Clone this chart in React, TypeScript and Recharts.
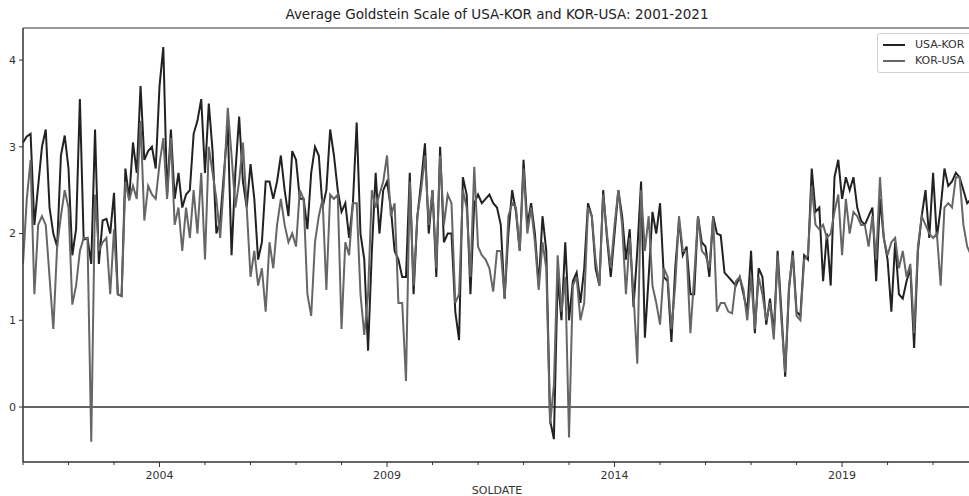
import { LineChart, Line, XAxis, YAxis, ReferenceLine, ReferenceArea } from "recharts";

// monthly averages, Jan 2001 .. Nov 2021
const usaKor = [
  3.05, 3.12, 3.15, 2.1, 2.55, 3.0, 3.2, 2.3, 2.0, 1.85, 2.9, 3.13,
  2.75, 1.75, 2.05, 3.55, 1.93, 1.95, 1.65, 3.2, 1.65, 2.15, 2.17, 2.0,
  2.47, 1.3, 1.28, 2.75, 2.4, 3.05, 2.7, 3.7, 2.85, 2.95, 3.0, 2.75,
  3.7, 4.15, 2.45, 3.2, 2.4, 2.7, 2.3, 2.45, 2.5, 3.15, 3.3, 3.55,
  2.7, 3.5, 2.95, 2.0, 2.15, 2.7, 3.25, 1.75, 2.7, 3.35, 2.6, 2.3,
  2.8, 2.4, 1.7, 1.9, 2.6, 2.6, 2.4, 2.6, 2.9, 2.5, 2.2, 2.95,
  2.85, 2.4, 2.4, 2.05, 2.7, 3.0, 2.9, 2.3, 2.5, 3.2, 2.9, 2.5,
  2.25, 2.35, 1.95, 2.35, 3.28, 2.0, 1.7, 0.65, 1.8, 2.7, 2.0, 2.5,
  2.6, 2.3, 1.8, 1.7, 1.5, 1.5, 2.7, 1.3, 2.2, 2.6, 3.04, 2.0,
  2.5, 1.5, 3.0, 1.9, 2.0, 2.0, 1.1, 0.77, 2.65, 2.45, 1.3, 2.35,
  2.45, 2.35, 2.4, 2.45, 2.35, 2.3, 2.1, 1.25, 2.0, 2.5, 2.25, 1.8,
  2.85, 2.1, 2.35, 2.0, 1.4, 2.2, 1.8, -0.15, -0.37, 1.5, 1.0, 1.9,
  1.0, 1.45, 1.55, 1.2, 1.6, 2.35, 2.2, 1.6, 1.4, 2.5, 1.95, 1.5,
  2.0, 2.5, 2.2, 1.7, 2.05, 1.15, 1.8, 2.6, 0.8, 1.5, 2.25, 2.0,
  2.35, 1.5, 1.45, 0.75, 1.6, 2.15, 1.75, 1.85, 1.3, 1.3, 2.2, 1.9,
  1.85, 1.5, 2.2, 2.0, 1.98, 1.55, 1.5, 1.45, 1.4, 1.5, 1.3, 1.1,
  1.8, 0.85, 1.6, 1.5, 0.95, 1.25, 0.85, 1.8, 1.1, 0.35, 1.35, 1.8,
  1.1, 1.05, 1.75, 1.7, 2.75, 2.25, 2.3, 1.45, 2.0, 1.4, 2.65, 2.85,
  2.4, 2.65, 2.5, 2.65, 2.3, 2.15, 2.1, 2.2, 2.3, 1.45, 2.4, 1.95,
  1.7, 1.1, 1.9, 1.3, 1.25, 1.45, 1.6, 0.68, 1.8, 2.2, 2.5, 1.95,
  2.7, 1.95, 2.3, 2.75, 2.55, 2.6, 2.7, 2.65, 2.5, 2.35, 2.4,
];

const korUsa = [
  1.65, 2.4, 2.85, 1.3, 2.1, 2.2, 2.1, 1.5, 0.9, 1.85, 2.2, 2.5,
  2.3, 1.18, 1.4, 1.8, 1.95, 1.95, -0.4, 2.45, 1.8, 1.9, 1.95, 1.3,
  2.05, 1.3, 1.28, 2.6, 2.38, 2.55, 2.4, 3.3, 2.15, 2.55, 2.45, 2.4,
  2.8, 3.1, 2.4, 3.1, 2.1, 2.3, 1.8, 2.3, 1.95, 2.5, 2.0, 2.7,
  1.7, 3.0, 2.7, 2.4, 1.95, 2.6, 3.45, 2.9, 2.3, 2.6, 3.05, 2.3,
  1.5, 1.8, 1.4, 1.6, 1.1, 1.9, 1.6, 2.1, 2.4, 2.1, 1.9, 2.0,
  1.85, 2.5, 2.4, 1.3, 1.05, 1.9, 2.2, 2.4, 1.35, 2.45, 2.4, 2.45,
  0.9, 1.9, 1.75, 2.35, 2.35, 1.3, 0.83, 1.3, 2.5, 2.3, 2.45, 2.6,
  2.9, 2.2, 2.35, 1.2, 1.2, 0.3, 2.6, 1.4, 2.2, 2.5, 2.9, 2.1,
  2.5, 1.6, 2.9, 2.1, 2.45, 2.35, 1.2, 1.3, 2.5, 2.3, 1.5, 2.77,
  1.85, 1.75, 1.7, 1.6, 1.33, 1.8, 1.8, 1.25, 2.2, 2.35, 2.3, 1.8,
  2.75, 2.0, 2.3, 1.9, 1.35, 1.9, 1.6, -0.2, 0.25, 1.75, 1.1, 1.5,
  -0.35, 1.4, 1.5, 1.0, 1.2, 2.3, 2.2, 1.7, 1.4, 2.45, 2.0, 1.6,
  2.1, 2.5, 2.1, 1.3, 1.95, 1.3, 0.5, 2.5, 1.8, 2.2, 1.4, 1.2,
  0.95, 1.6, 1.5, 0.9, 1.4, 2.2, 1.8, 1.8, 0.85, 1.5, 2.2, 1.8,
  1.75, 1.6, 2.2, 1.1, 1.2, 1.2, 1.1, 1.08, 1.45, 1.5, 1.35, 1.0,
  1.5, 0.9, 1.5, 1.3, 1.0, 1.2, 0.78, 1.75, 1.0, 0.4, 1.4, 1.75,
  1.05, 1.0, 1.7, 1.75, 2.55, 2.1, 2.05, 2.1, 1.95, 2.0, 2.25, 2.45,
  1.75, 2.4, 2.0, 2.25, 2.2, 2.1, 2.1, 1.85, 2.2, 1.7, 2.65, 1.95,
  1.75, 1.9, 1.95, 1.6, 1.8, 1.5, 1.65, 0.85, 1.85, 2.2, 2.1, 2.0,
  1.95, 2.0, 1.4, 2.3, 2.35, 2.3, 2.65, 2.65, 2.1, 1.85, 1.75,
];

const startYear = 2001;
const years = [2001, 2002, 2003, 2004, 2005, 2006, 2007, 2008, 2009, 2010, 2011, 2012, 2013, 2014, 2015, 2016, 2017, 2018, 2019, 2020, 2021];
const labelYears = [2004, 2009, 2014, 2019];
const yTicks = [0, 1, 2, 3, 4];

const data = usaKor.map((v, i) => ({ m: i, usaKor: v, korUsa: korUsa[i] }));
const yearTicks = years.map((y) => (y - startYear) * 12);

const FONT = "DejaVu Sans, sans-serif";
const INK = "#333";

function YearTick({ x, y, payload }: any) {
  const year = startYear + payload.value / 12;
  const major = labelYears.includes(year);
  return (
    <g>
      <line x1={x} x2={x} y1={y} y2={y + (major ? 5 : 3)} stroke={INK} strokeWidth={1} />
      {major && (
        <text x={x} y={y + 17} textAnchor="middle" fontSize={11} fontFamily={FONT} fill={INK}>
          {year}
        </text>
      )}
    </g>
  );
}

function LegendBox() {
  const row = (label: string, color: string) => (
    <div style={{ display: "flex", alignItems: "center", height: 16 }}>
      <div style={{ width: 22, height: 2, background: color, marginRight: 10 }} />
      <span>{label}</span>
    </div>
  );
  return (
    <div
      style={{
        position: "absolute", left: 877, top: 33, width: 100, padding: "3px 0 3px 5px",
        border: "1px solid #d0d0d0", borderRadius: 3, background: "rgba(255,255,255,0.85)",
        fontFamily: FONT, fontSize: 11, color: INK, lineHeight: "16px",
      }}
    >
      {row("USA-KOR", "#222")}
      {row("KOR-USA", "#666")}
    </div>
  );
}

export default function App() {
  return (
    <div style={{ position: "relative", width: 969, height: 496, overflow: "hidden", background: "#fff" }}>
      <style>{"body{margin:0}"}</style>
      <div
        style={{
          position: "absolute", left: 23, width: 948, top: 6, textAlign: "center",
          fontFamily: FONT, fontSize: 13.5, color: "#222",
        }}
      >
        Average Goldstein Scale of USA-KOR and KOR-USA: 2001-2021
      </div>
      <LineChart width={975} height={496} data={data} margin={{ top: 28, right: 4, bottom: 0, left: 0 }}>
        <ReferenceArea x1={0} x2={250} y1={-0.634} y2={4.37} fill="none" stroke={INK} strokeWidth={1} ifOverflow="visible" />
        <XAxis
          dataKey="m"
          type="number"
          domain={[0, 250]}
          ticks={yearTicks}
          interval={0}
          height={34}
          tickSize={0}
          tickMargin={0}
          tick={<YearTick />}
          axisLine={{ stroke: INK }}
          tickLine={false}
          label={{ value: "SOLDATE", position: "insideBottom", offset: 2, fontSize: 11, fontFamily: FONT, fill: INK }}
        />
        <YAxis
          width={23}
          domain={[-0.634, 4.37]}
          allowDataOverflow
          ticks={yTicks}
          tickSize={4}
          tickMargin={3}
          axisLine={{ stroke: INK }}
          tickLine={{ stroke: INK }}
          tick={{ fontSize: 11, fontFamily: FONT, fill: INK }}
        />
        <ReferenceLine y={0} stroke="#666" strokeWidth={2} />
        <Line type="linear" dataKey="usaKor" name="USA-KOR" stroke="#222" strokeWidth={2} dot={false} isAnimationActive={false} />
        <Line type="linear" dataKey="korUsa" name="KOR-USA" stroke="#666" strokeWidth={2} dot={false} isAnimationActive={false} />
      </LineChart>
      <LegendBox />
    </div>
  );
}
